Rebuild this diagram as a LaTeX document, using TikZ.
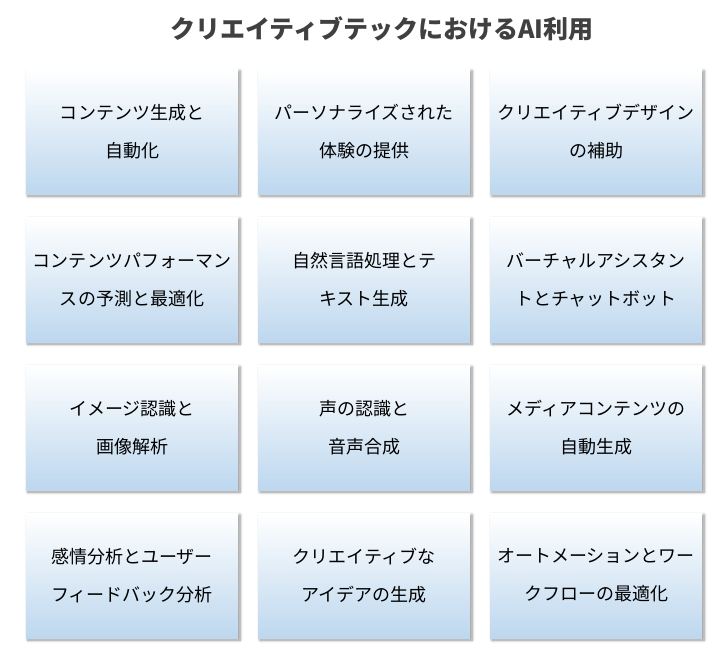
\documentclass[tikz,border=0pt]{standalone}
\usepackage{fontspec}
\setmainfont{Noto Sans CJK JP}
\usetikzlibrary{shadows.blur}
\definecolor{boxtop}{RGB}{255,255,255}
\definecolor{boxbot}{RGB}{189,215,238}
\definecolor{titlecol}{RGB}{64,64,64}
\tikzset{
  card/.style={rectangle, minimum width=212bp, minimum height=125bp, inner sep=0pt,
    top color=boxtop, bottom color=boxbot, draw=none,
    blur shadow={shadow xshift=2bp, shadow yshift=-2bp, shadow blur steps=6, shadow blur radius=3bp, shadow opacity=45},
    align=center, text width=205bp, font=\fontsize{18bp}{38bp}\selectfont, text=black},
  titletext/.style={font=\fontsize{25bp}{30bp}\selectfont\bfseries, text=titlecol}
}
\begin{document}
\begin{tikzpicture}[x=1bp,y=-1bp]
\useasboundingbox (0,0) rectangle (725,657);
\node[titletext] (title) at (382,29) {クリエイティブテックにおけるAI利用};
\node[card] (b11) at (132,131.5) {コンテンツ生成と\\自動化};
\node[card] (b12) at (364,131.5) {パーソナライズされた\\体験の提供};
\node[card] (b13) at (596,131.5) {クリエイティブデザイン\\の補助};
\node[card] (b21) at (132,279.5) {コンテンツパフォーマン\\スの予測と最適化};
\node[card] (b22) at (364,279.5) {自然言語処理とテ\\キスト生成};
\node[card] (b23) at (596,279.5) {バーチャルアシスタン\\トとチャットボット};
\node[card] (b31) at (132,427.5) {イメージ認識と\\画像解析};
\node[card] (b32) at (364,427.5) {声の認識と\\音声合成};
\node[card] (b33) at (596,427.5) {メディアコンテンツの\\自動生成};
\node[card] (b41) at (132,575.5) {感情分析とユーザー\\フィードバック分析};
\node[card] (b42) at (364,575.5) {クリエイティブな\\アイデアの生成};
\node[card] (b43) at (596,575.5) {オートメーションとワー\\クフローの最適化};
\end{tikzpicture}
\end{document}
